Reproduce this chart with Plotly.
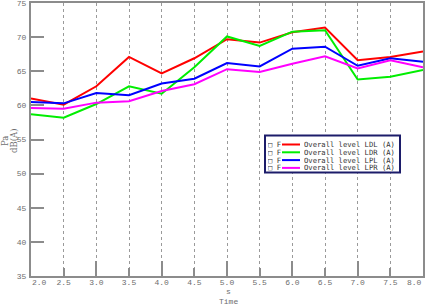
import plotly.graph_objects as go

time_s = [2.0, 2.5, 3.0, 3.5, 4.0, 4.5, 5.0, 5.5, 6.0, 6.5, 7.0, 7.5, 8.0]
ldl = [61.0, 60.1, 62.8, 67.1, 64.7, 66.9, 69.7, 69.2, 70.7, 71.4, 66.6, 67.1, 67.9]
ldr = [58.7, 58.2, 60.2, 62.8, 61.7, 65.6, 70.1, 68.7, 70.8, 71.0, 63.8, 64.2, 65.2]
lpl = [60.5, 60.3, 61.8, 61.5, 63.2, 63.9, 66.2, 65.7, 68.3, 68.6, 65.8, 66.9, 66.4]
lpr = [59.6, 59.5, 60.4, 60.6, 62.1, 63.1, 65.3, 64.9, 66.1, 67.2, 65.4, 66.6, 65.6]

series_names = ["Overall level LDL (A)", "Overall level LDR (A)",
                "Overall level LPL (A)", "Overall level LPR (A)"]
series_values = [ldl, ldr, lpl, lpr]
series_colors = ["#ff0000", "#00ee00", "#0000ff", "#ff00ff"]

x_tick_vals = [2.0, 2.5, 3.0, 3.5, 4.0, 4.5, 5.0, 5.5, 6.0, 6.5, 7.0, 7.5, 8.0]
x_tick_text = ["2.0", "2.5", "3.0", "3.5", "4.0", "4.5", "5.0", "5.5",
               "6.0", "6.5", "7.0", "7.5", "8.0"]
x_long_ticks = [3.0, 4.0, 5.0, 6.0, 7.0]
y_tick_vals = [35, 40, 45, 50, 55, 60, 65, 70, 75]

W, H = 426, 308
L, R, T, B = 31, 3, 3, 32
pw, ph = W - L - R, H - T - B

def px_x(px):
    return (px - L) / pw

def px_y(py):
    return (H - B - py) / ph

fig = go.Figure()
for name, vals, col in zip(series_names, series_values, series_colors):
    fig.add_trace(go.Scatter(x=time_s, y=vals, mode="lines", name=name,
                             line=dict(color=col, width=2), showlegend=False))
fig.add_trace(go.Scatter(x=[], y=[], xaxis="x2", showlegend=False, hoverinfo="skip"))

axis_gray = "#8c8c8c"
tick_font = dict(family="Liberation Mono, DejaVu Sans Mono, monospace", size=8, color="#6e6e6e")

# interior labels on the axis; the two end labels are set inside the frame like the reference
axis_ticktext = [""] + x_tick_text[1:-1] + [""]

fig.update_layout(
    width=W, height=H,
    margin=dict(l=L, r=R, t=T, b=B),
    paper_bgcolor="white", plot_bgcolor="white",
    xaxis=dict(range=[2, 8], tickmode="array", tickvals=x_tick_vals, ticktext=axis_ticktext,
               ticks="inside", ticklen=8, tickwidth=2, tickcolor=axis_gray,
               showline=True, linecolor=axis_gray, linewidth=2, mirror=True,
               showgrid=True, gridcolor="#9a9a9a", griddash="dot", gridwidth=1,
               zeroline=False, tickfont=tick_font, ticklabelstandoff=-3, automargin=False,
               ticklabeloverflow="allow"),
    xaxis2=dict(range=[2, 8], overlaying="x", anchor="y", side="bottom",
                tickmode="array", tickvals=x_long_ticks, showticklabels=False,
                ticks="inside", ticklen=15, tickwidth=2, tickcolor=axis_gray,
                showline=False, showgrid=False, zeroline=False),
    yaxis=dict(range=[35, 75], tickmode="array", tickvals=y_tick_vals,
               ticks="inside", ticklen=13, tickwidth=2, tickcolor=axis_gray,
               showline=True, linecolor=axis_gray, linewidth=2, mirror=True,
               showgrid=False, zeroline=False, tickfont=tick_font, ticklabelstandoff=1,
               automargin=False, ticklabeloverflow="allow"),
)

fig.add_annotation(text=x_tick_text[0], xref="x", yref="paper", x=x_tick_vals[0], y=px_y(282),
                   showarrow=False, font=tick_font, xanchor="left", yanchor="middle", borderpad=0)
fig.add_annotation(text=x_tick_text[-1], xref="x", yref="paper", x=x_tick_vals[-1], y=px_y(282),
                   showarrow=False, font=tick_font, xanchor="right", yanchor="middle", borderpad=0)

title_font = dict(family="DejaVu Serif, Liberation Serif, serif", size=8.5, color="#6e6e6e")
fig.add_annotation(text="Pa", xref="paper", yref="paper", x=px_x(5), y=px_y(141),
                   textangle=-90, showarrow=False, font=title_font,
                   xanchor="center", yanchor="middle", borderpad=0)
fig.add_annotation(text="dB(A)", xref="paper", yref="paper", x=px_x(14), y=px_y(141),
                   textangle=-90, showarrow=False, font=title_font,
                   xanchor="center", yanchor="middle", borderpad=0)
fig.add_annotation(text="s", xref="paper", yref="paper", x=px_x(228), y=px_y(291),
                   showarrow=False, font=tick_font, xanchor="center", yanchor="middle",
                   borderpad=0)
fig.add_annotation(text="Time", xref="paper", yref="paper", x=px_x(228), y=px_y(301),
                   showarrow=False, font=tick_font, xanchor="center", yanchor="middle",
                   borderpad=0)

# legend box
fig.add_shape(type="rect", xref="paper", yref="paper",
              x0=px_x(265), x1=px_x(400), y0=px_y(172.5), y1=px_y(135.5),
              line=dict(color="#1c1c6a", width=2), fillcolor="white", layer="above")
legend_font = dict(family="DejaVu Sans Mono, Liberation Mono, monospace", size=7.2, color="#333333")
line_ys = [144.5, 152.3, 160.1, 167.9]
for name, col, ly in zip(series_names, series_colors, line_ys):
    fig.add_annotation(text="\u25a1 F", xref="paper", yref="paper", x=px_x(266.5), y=px_y(ly),
                       showarrow=False, font=legend_font, xanchor="left", yanchor="middle",
                       borderpad=0, height=7)
    fig.add_shape(type="line", xref="paper", yref="paper",
                  x0=px_x(282), x1=px_x(300), y0=px_y(ly), y1=px_y(ly),
                  line=dict(color=col, width=2), layer="above")
    fig.add_annotation(text=name, xref="paper", yref="paper", x=px_x(303), y=px_y(ly),
                       showarrow=False, font=legend_font, xanchor="left", yanchor="middle",
                       borderpad=0, height=7)

fig.write_html("out.html", config={"displayModeBar": False},
               post_script="document.body.style.margin='0';document.body.style.padding='0';")
